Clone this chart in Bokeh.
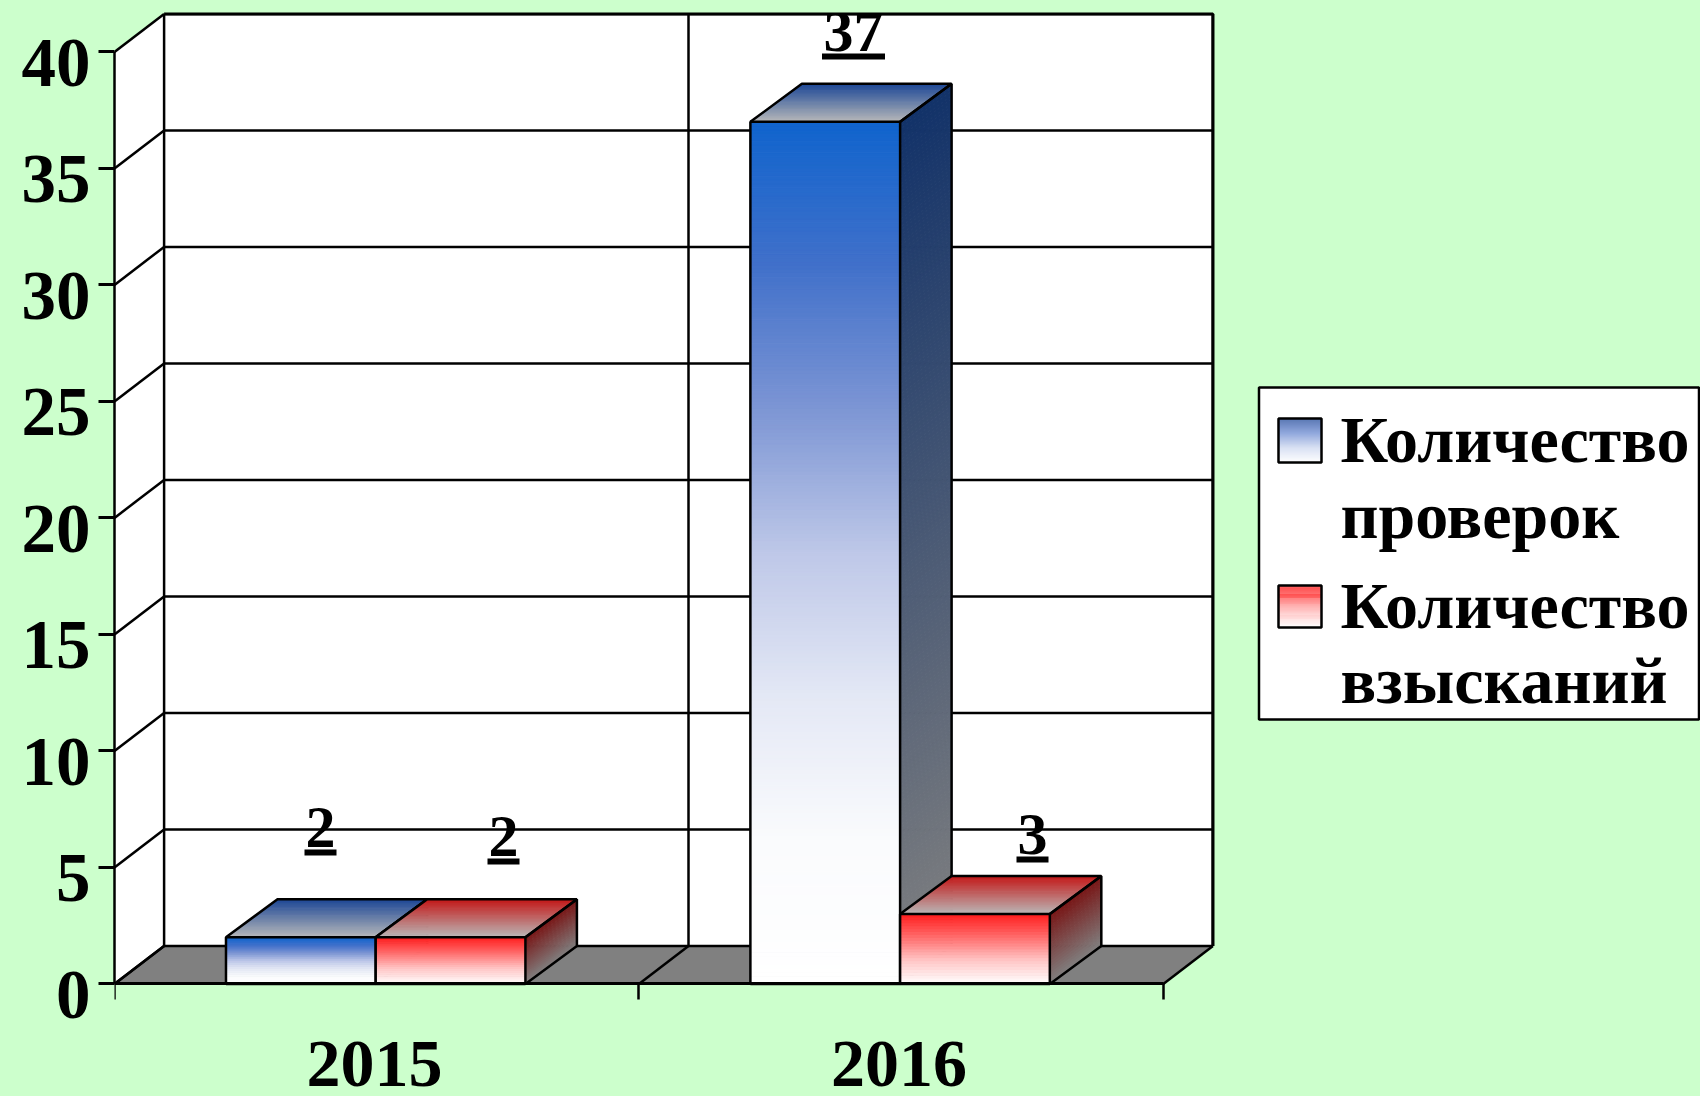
from bokeh.plotting import figure
from bokeh.models import Range1d, LinearAxis, FixedTicker
from bokeh.core.properties import value
from bokeh.embed import file_html
from bokeh.resources import INLINE

# ---- data ----
categories = ["2015", "2016"]
series_names = [["Количество", "проверок"], ["Количество", "взысканий"]]
checks = [2, 37]
penalties = [2, 3]
y_ticks = [0, 5, 10, 15, 20, 25, 30, 35, 40]

# ---- styling / layout ----
BG = "#ccffcc"
FONT = value("Liberation Serif")
WIN_L, WIN_T, WIN_R, WIN_B = 0, 0, 1700, 1096   # figure edges on the page
X0, CAT_W = 114.0, 524.4                        # page px of x=0, px per category
Y0, UNIT = 983.4, 23.3                          # page px of y=0, px per value unit
DX, DY = 49.6 / CAT_W, 38.0 / UNIT              # oblique depth of the 3D box
BAR_DX = 51.5 / CAT_W                           # oblique depth of the bars
BAR_W, BAR_GAP = 0.2855, 0.2126
YMAX = 40
BLUE = dict(front=[(255, 255, 255), (250, 251, 253), (228, 232, 245), (190, 200, 232),
                   (125, 150, 212), (65, 112, 202), (16, 100, 205)],
            top=(30, 72, 150), side=(18, 50, 105))
RED = dict(front=[(255, 255, 255), (255, 200, 200), (255, 110, 110), (255, 30, 30)],
           top=(195, 25, 25), side=(120, 22, 22))
SWATCH_BLUE = [(255, 255, 255), (205, 215, 240), (110, 140, 210), (35, 75, 155)]
SWATCH_RED = [(255, 255, 255), (255, 200, 200), (255, 110, 110), (255, 30, 30)]
GRAY_TOP, GRAY_SIDE = (186, 186, 186), (128, 128, 128)
BASE_FIX = 0.35   # em: the SVG text sits this far under the asked baseline


def px(x):
    return (x - X0) / CAT_W


def py(y):
    return (Y0 - y) / UNIT


def mix(a, b, t):
    return "#%02x%02x%02x" % tuple(round(a[i] + (b[i] - a[i]) * t) for i in range(3))


def ramp(stops, t):
    s = t * (len(stops) - 1)
    i = min(int(s), len(stops) - 2)
    return mix(stops[i], stops[i + 1], s - i)


y_start, y_end = py(WIN_B), py(WIN_T)
LABEL_SHIFT = 11.0 / UNIT
CAT_LABEL_POS = 0.496

p = figure(width=WIN_R - WIN_L, height=WIN_B - WIN_T, output_backend="svg", toolbar_location=None,
           x_range=Range1d(0, px(WIN_R)), y_range=Range1d(y_start, y_end),
           background_fill_color=BG, border_fill_color=BG, outline_line_color=None,
           min_border=0, min_border_left=int(X0 - WIN_L))
p.grid.visible = False

# ---- axes ----
xa = p.xaxis[0]
xa.fixed_location = 0
xa.bounds = (0, len(categories))
xa.ticker = FixedTicker(ticks=[i + CAT_LABEL_POS for i in range(len(categories))],
                        minor_ticks=list(range(len(categories) + 1)))
xa.major_label_overrides = {i + CAT_LABEL_POS: c for i, c in enumerate(categories)}
xa.major_tick_in = xa.major_tick_out = 0
xa.minor_tick_in, xa.minor_tick_out = 0, 16
xa.minor_tick_line_color = "black"
xa.minor_tick_line_width = 2.5
xa.axis_line_color = "black"
xa.axis_line_width = 3
xa.major_label_standoff = 42
xa.major_label_text_font = "Liberation Serif"
xa.major_label_text_font_style = "bold"
xa.major_label_text_font_size = "68px"
xa.major_label_text_color = "black"

ya = p.yaxis[0]
ya.bounds = (0, YMAX)
ya.ticker = FixedTicker(ticks=y_ticks)
ya.major_label_text_alpha = 0
ya.major_label_text_font_size = "1px"
ya.major_label_standoff = 0
ya.major_tick_in, ya.major_tick_out = 0, 16
ya.major_tick_line_color = "black"
ya.major_tick_line_width = 3
ya.minor_tick_line_color = None
ya.axis_line_color = "black"
ya.axis_line_width = 2.5

p.extra_y_ranges = {"labels": Range1d(y_start + LABEL_SHIFT, y_end + LABEL_SHIFT)}
lab = LinearAxis(y_range_name="labels", ticker=FixedTicker(ticks=y_ticks))
lab.axis_line_color = None
lab.major_tick_line_color = None
lab.minor_tick_line_color = None
lab.major_tick_in = lab.major_tick_out = 0
lab.major_label_standoff = 8
lab.major_label_text_font = "Liberation Serif"
lab.major_label_text_font_style = "bold"
lab.major_label_text_font_size = "69px"
lab.major_label_text_color = "black"
p.add_layout(lab, "left")

# ---- 3D box: walls and floor ----
n = len(categories)
p.quad(left=DX, right=n + DX, bottom=DY, top=YMAX + DY, fill_color="white", line_color=None)
p.patch([0, DX, DX, 0], [0, DY, YMAX + DY, YMAX], fill_color="white", line_color=None)
p.patch([0, n, n + DX, DX], [0, 0, DY, DY], fill_color="#808080", line_color=None)

gx, gy = [], []
for v in y_ticks:
    gx += [[0, DX], [DX, n + DX]]
    gy += [[v, v + DY], [v + DY, v + DY]]
for i in range(n + 1):
    gx.append([i, i + DX])
    gy.append([0, DY])
    gx.append([i + DX, i + DX])
    gy.append([DY, YMAX + DY])
p.multi_line(gx, gy, line_color="black", line_width=2.5)


# ---- gradient bars ----
def draw_bar(x, v, c):
    x2 = x + BAR_W
    steps = max(24, v * 6)
    xs, ys, cols = [], [], []
    for k in range(steps):
        a, b = v * k / steps, v * (k + 1) / steps
        xs.append([x2, x2 + BAR_DX, x2 + BAR_DX, x2])
        ys.append([a, a + DY, b + DY, b])
        cols.append(mix(GRAY_SIDE, c["side"], (k + 0.5) / steps))
    top_steps = 24
    for k in range(top_steps):
        a, b = k / top_steps, (k + 1) / top_steps
        xs.append([x + a * BAR_DX, x2 + a * BAR_DX, x2 + b * BAR_DX, x + b * BAR_DX])
        ys.append([v + a * DY, v + a * DY, v + b * DY, v + b * DY])
        cols.append(mix(GRAY_TOP, c["top"], (k + 0.5) / top_steps))
    p.patches(xs, ys, fill_color=cols, line_color=cols, line_width=1)
    b, t, fc = [], [], []
    for k in range(steps):
        b.append(v * k / steps)
        t.append(v * (k + 1) / steps)
        fc.append(ramp(c["front"], (k + 0.5) / steps))
    p.quad(left=x, right=x2, bottom=b, top=t, fill_color=fc, line_color=fc, line_width=1)
    ex = [[x, x, x2, x2, x], [x2, x2 + BAR_DX, x2 + BAR_DX, x2], [x, x + BAR_DX, x2 + BAR_DX, x2]]
    ey = [[0, v, v, 0, 0], [0, DY, v + DY, v], [v, v + DY, v + DY, v]]
    p.multi_line(ex, ey, line_color="black", line_width=2.5)


for i in range(n):
    draw_bar(i + BAR_GAP, checks[i], BLUE)
    draw_bar(i + BAR_GAP + BAR_W, penalties[i], RED)

# ---- value labels (underlined) ----
label_texts = [str(checks[0]), str(penalties[0]), str(checks[1]), str(penalties[1])]
label_cx = [320, 503, 853, 1032]
label_base = [848, 857, 52, 855]
p.text([px(a) for a in label_cx], [py(a - BASE_FIX * 60) for a in label_base], text=label_texts,
       text_font=FONT, text_font_style="bold", text_font_size=value("60px"),
       text_align="center", text_baseline="alphabetic", text_color="black")
ul_w = [31 * len(t) + 1 for t in label_texts]
p.quad(left=[px(c - w / 2) for c, w in zip(label_cx, ul_w)],
       right=[px(c + w / 2) for c, w in zip(label_cx, ul_w)],
       bottom=[py(b + 7) for b in label_base], top=[py(b + 1) for b in label_base],
       fill_color="black", line_color=None)

# the "37" is cut off by the chart's top edge
p.quad(left=DX, right=n + DX, bottom=YMAX + DY, top=y_end, fill_color=BG, line_color=None)
p.line([DX, n + DX, n + DX], [YMAX + DY, YMAX + DY, DY], line_color="black", line_width=3)

# ---- legend ----
p.quad(left=px(1258.5), right=px(1698.5), bottom=py(719), top=py(387),
       fill_color="white", line_color="black", line_width=2.5)
swatches = [(1278, 1321, 418, 462, SWATCH_BLUE), (1278, 1321, 585, 627, SWATCH_RED)]
for x1, x2, yt, yb, stops in swatches:
    steps = 44
    p.quad(left=px(x1), right=px(x2),
           bottom=[py(yb + (yt - yb) * k / steps) for k in range(steps)],
           top=[py(yb + (yt - yb) * (k + 1) / steps) for k in range(steps)],
           fill_color=[ramp(stops, (k + 0.5) / steps) for k in range(steps)],
           line_color=None)
    p.quad(left=px(x1), right=px(x2), bottom=py(yb), top=py(yt), fill_color=None,
           line_color="black", line_width=2.5)

legend_lines = series_names[0] + series_names[1]
legend_base = [462, 538, 628, 703]
p.text([px(1340)] * 4, [py(b - BASE_FIX * 66) for b in legend_base], text=legend_lines,
       text_font=FONT, text_font_style="bold", text_font_size=value("66px"),
       text_align="left", text_baseline="alphabetic", text_color="black")

html = file_html(p, INLINE).replace("<head>", "<head><style>html,body{background:%s}</style>" % BG, 1)
open("out.html", "w").write(html)
